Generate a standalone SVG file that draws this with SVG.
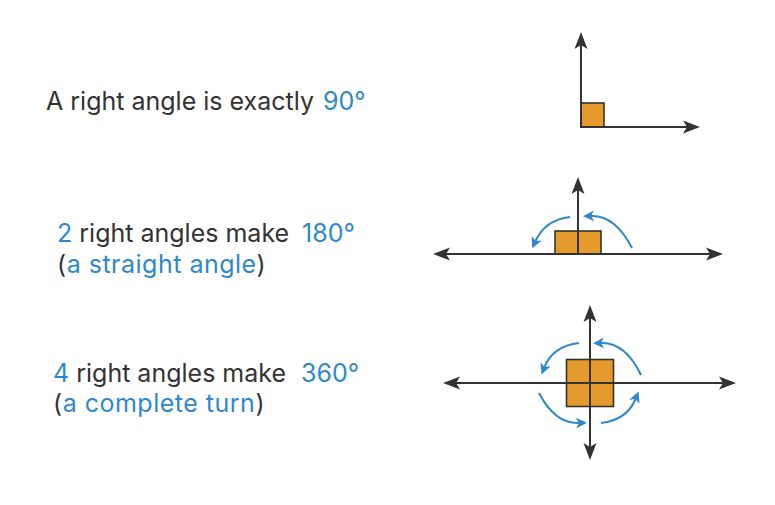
<svg xmlns="http://www.w3.org/2000/svg" width="775" height="505" viewBox="0 0 775 505">
<style>
.t{font-family:Inter,"Liberation Sans",sans-serif;font-size:25px;fill:#333333}
.b{fill:#2e88cb}
.w{letter-spacing:0.5px}
.ax{stroke:#333333;stroke-width:2;fill:none}
.sq{fill:#e49b2b;stroke:#333333;stroke-width:1.6}
.arc{stroke:#2e88cb;stroke-width:2;fill:none;marker-end:url(#bh)}
</style>
<defs>
<marker id="kh" markerUnits="userSpaceOnUse" markerWidth="30" markerHeight="20" viewBox="-10 -10 30 20" refX="0" refY="0" orient="auto-start-reverse" overflow="visible">
<path d="M11,0 L-6,-6.5 L-2,0 L-6,6.5 Z" fill="#333333"/>
</marker>
<marker id="bh" markerUnits="userSpaceOnUse" markerWidth="24" markerHeight="20" viewBox="-10 -10 24 20" refX="0" refY="0" orient="auto" overflow="visible">
<path d="M8,0 L-3,-5.5 L0,0 L-3,5.5 Z" fill="#2e88cb"/>
</marker>
</defs>
<g id="label-90">
<text class="t" x="46" y="110">A right angle is exactly <tspan class="b" x="323">90°</tspan></text>
</g>
<g id="label-180">
<text class="t" x="57" y="242"><tspan class="b">2</tspan> right angles make <tspan class="b" x="302">180°</tspan></text>
<text class="t w" x="57" y="273">(<tspan class="b">a straight angle</tspan>)</text>
</g>
<g id="label-360">
<text class="t" x="53" y="382"><tspan class="b">4</tspan> right angles make <tspan class="b" x="301">360°</tspan></text>
<text class="t w" x="53" y="412">(<tspan class="b">a complete turn</tspan>)</text>
</g>
<g id="fig-90">
<rect class="sq" x="581" y="103" width="23" height="24"/>
</g>
<g id="fig-180">
<rect class="sq" x="555" y="231" width="46" height="23"/>
</g>
<g id="fig-360">
<rect class="sq" x="566.5" y="359.5" width="47" height="47"/>
</g>
<g id="connectors">
<line class="ax" x1="581" y1="127" x2="581" y2="43" marker-end="url(#kh)"/>
<line class="ax" x1="580" y1="127" x2="689" y2="127" marker-end="url(#kh)"/>
<line class="ax" x1="444" y1="254" x2="712" y2="254" marker-start="url(#kh)" marker-end="url(#kh)"/>
<line class="ax" x1="578" y1="254" x2="578" y2="188" marker-end="url(#kh)"/>
<path class="arc" d="M570,217 Q545,220 535.5,241"/>
<path class="arc" d="M632,248 Q615,215 591,216"/>
<line class="ax" x1="454" y1="383" x2="725" y2="383" marker-start="url(#kh)" marker-end="url(#kh)"/>
<line class="ax" x1="590" y1="316" x2="590" y2="449" marker-start="url(#kh)" marker-end="url(#kh)"/>
<path class="arc" d="M579,343 Q553,346 544.5,367"/>
<path class="arc" d="M641,375 Q625,342 601,343"/>
<path class="arc" d="M539,393 Q555,424 579,423"/>
<path class="arc" d="M601,423 Q627,420 635.5,399"/>
</g>
</svg>
